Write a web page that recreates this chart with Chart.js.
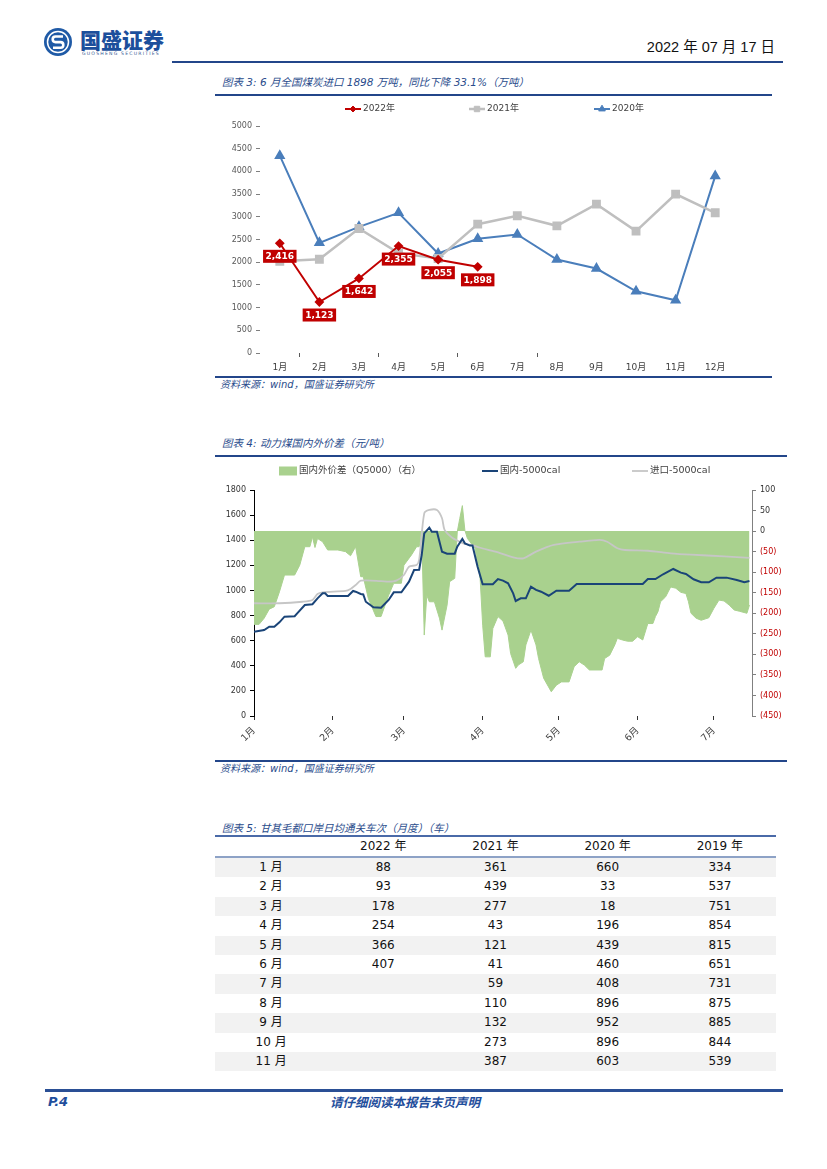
<!DOCTYPE html>
<html><head><meta charset="utf-8">
<script src="https://cdn.jsdelivr.net/npm/chart.js@4.4.1/dist/chart.umd.min.js"></script>
<style>
body{margin:0;background:#fff;}
#page{position:relative;width:827px;height:1169px;overflow:hidden;font-family:'DejaVu Sans','Noto Sans CJK SC',sans-serif;}
.hl{position:absolute;background:#23468a;}
.ttl{position:absolute;font-family:'DejaVu Sans','Noto Sans CJK SC',sans-serif;font-style:italic;font-size:10.5px;color:#2a4c8c;line-height:14px;white-space:nowrap;}
.src{position:absolute;font-family:'DejaVu Sans','Noto Sans CJK SC',sans-serif;font-style:italic;font-size:10px;color:#2a4c8c;line-height:14px;white-space:nowrap;}
canvas{position:absolute;}
#tbl{position:absolute;left:215px;top:837px;width:561px;border-collapse:collapse;font-family:'DejaVu Sans','Noto Sans CJK SC',sans-serif;font-size:12px;color:#111;table-layout:fixed;}
#tbl td,#tbl th{text-align:center;padding:0;height:19.4px;line-height:19.4px;font-weight:normal;}
#tbl thead th{height:19px;line-height:19px;border-bottom:2px solid #8da2c6;}
#tbl tbody tr:nth-child(odd) td{background:#f2f2f2;}
</style></head>
<body><div id="page">
  <svg style="position:absolute;left:43px;top:27px" width="30" height="30" viewBox="0 0 30 30">
    <circle cx="15" cy="15" r="14" fill="#1f5aa6"/>
    <circle cx="15" cy="15" r="10.5" fill="none" stroke="#fff" stroke-width="1.5"/>
    <path d="M20 9.5 H12.5 a2.8 2.8 0 0 0 0 5.6 h5 a2.8 2.8 0 0 1 0 5.6 H10" stroke="#fff" stroke-width="2.6" fill="none"/>
  </svg>
  <div style="position:absolute;left:80px;top:27px;font-family:'Noto Sans CJK SC',sans-serif;font-weight:900;font-size:21px;line-height:24px;color:#1c4f9c;letter-spacing:0px;">国盛证券</div>
  <div style="position:absolute;left:82px;top:51px;font-family:'DejaVu Sans',sans-serif;font-size:4.6px;line-height:6px;color:#3a5a94;letter-spacing:1.2px;">GUOSHENG SECURITIES</div>
  <div style="position:absolute;right:52px;top:38px;font-family:'Liberation Sans','Noto Sans CJK SC',sans-serif;font-size:14.5px;line-height:18px;color:#111;white-space:nowrap;">2022 年 07 月 17 日</div>
  <div class="hl" style="left:172px;top:61px;width:611px;height:2px;"></div>

  <div class="ttl" style="left:222px;top:75px;">图表 3: 6 月全国煤炭进口 1898 万吨，同比下降 33.1%（万吨）</div>
  <div class="hl" style="left:215px;top:94px;width:557px;height:2px;"></div>
  <canvas id="c1" width="560" height="280" style="left:215px;top:97px;"></canvas>
  <div class="hl" style="left:215px;top:376px;width:557px;height:2px;"></div>
  <div class="src" style="left:220px;top:378px;">资料来源：wind，国盛证券研究所</div>

  <div class="ttl" style="left:222px;top:436px;">图表 4: 动力煤国内外价差（元/吨）</div>
  <div class="hl" style="left:215px;top:455px;width:572px;height:2px;"></div>
  <canvas id="c2" width="575" height="300" style="left:215px;top:458px;"></canvas>
  <div class="hl" style="left:215px;top:760px;width:572px;height:2px;"></div>
  <div class="src" style="left:220px;top:762px;">资料来源：wind，国盛证券研究所</div>

  <div class="ttl" style="left:222px;top:821px;">图表 5: 甘其毛都口岸日均通关车次（月度）（车）</div>
  <div class="hl" style="left:215px;top:835px;width:561px;height:1.5px;background:#4a6aa8;"></div>
  <table id="tbl"><thead><tr id="thead"></tr></thead><tbody id="tbody"></tbody></table>

  <div class="hl" style="left:45px;top:1089px;width:738px;height:2.5px;background:#2a4f95;"></div>
  <div style="position:absolute;left:48px;top:1094px;font-family:'DejaVu Sans',sans-serif;font-weight:bold;font-style:italic;font-size:13px;line-height:16px;color:#1f4e9c;">P.4</div>
  <div style="position:absolute;left:330px;top:1094px;font-family:'Noto Sans CJK SC',sans-serif;font-weight:bold;font-style:italic;font-size:12.5px;line-height:16px;color:#1f4e9c;white-space:nowrap;">请仔细阅读本报告末页声明</div>
</div>
<script>
// ---------- Chart 3 data ----------
const months = ['1月','2月','3月','4月','5月','6月','7月','8月','9月','10月','11月','12月'];
const imp2022 = [2416,1123,1642,2355,2055,1898];
const imp2021 = [2022,2066,2743,2200,2081,2838,3022,2801,3279,2684,3500,3088];
const imp2020 = [4346,2426,2779,3088,2191,2515,2610,2059,1860,1360,1162,3897];
const yTicks1 = [0,500,1000,1500,2000,2500,3000,3500,4000,4500,5000];

// ---------- Chart 4 data (x = day of year, 0 = Jan 1) ----------
const monthStartDays = [0,31,59,90,120,151,181];
const monthTickLabels = ['1月','2月','3月','4月','5月','6月','7月'];
const domDays = [0,4,6,8,10,12,16,17,20,23,25,27,28,29,37,39,40,42,43,44,47,50,53,55,58,61,63,65,66,67,69,70,72,74,76,79,80,82,83,85,86,88,90,94,96,98,100,102,103,105,107,109,111,113,116,119,124,127,153,155,158,161,165,168,170,173,176,179,182,186,190,193,195];
const domVals = [671,685,711,711,746,791,795,818,884,890,937,977,977,956,956,996,990,972,968,910,866,863,924,985,985,1070,1163,1165,1282,1455,1500,1468,1468,1309,1293,1293,1348,1410,1375,1357,1357,1189,1049,1049,1091,1078,1057,977,916,937,937,1030,1004,990,958,998,998,1051,1051,1091,1091,1129,1171,1142,1131,1089,1065,1065,1102,1102,1083,1065,1075];
const impDays = [0,10,19,23,25,27,36,38,40,42,50,53,56,59,61,64,65,67,69,72,74,75,78,81,83,86,89,95,102,106,111,118,128,136,139,143,146,155,164,172,185,195];
const impVals = [898,898,910,924,972,985,996,1012,1043,1078,1075,1070,1078,1123,1189,1203,1243,1614,1641,1641,1575,1482,1420,1388,1370,1360,1340,1309,1264,1256,1309,1362,1388,1402,1388,1336,1322,1316,1296,1285,1272,1260];
const sprDays = [0,2,4,6,8,10,12,16,18,20,22,23,24,25,27,29,33,36,38,40,42,43,45,48,50,53,55,58,59,62,64,65,66,67,68,69,71,73,74,76,77,79,80,81,82,83,84,87,89,90,91,93,94,96,98,100,101,103,104,106,107,109,111,112,114,117,119,121,124,126,128,130,132,137,138,140,142,143,145,147,149,151,153,155,157,158,159,160,162,163,164,166,168,170,171,172,174,176,179,181,183,185,187,189,191,194,195];
const sprVals = [-227,-227,-212,-190,-184,-148,-107,-107,-83,-38,-38,-14,-40,-18,-26,-46,-46,-50,-60,-38,-111,-111,-164,-208,-208,-156,-127,-127,-83,-58,-38,-38,-2,-253,-156,-172,-172,-212,-241,-180,-123,-115,-2,31,62,2,-18,-42,-115,-229,-306,-306,-237,-208,-219,-253,-298,-334,-326,-318,-277,-241,-277,-310,-358,-391,-375,-367,-367,-330,-318,-326,-338,-338,-310,-302,-277,-261,-265,-268,-268,-257,-265,-225,-225,-208,-196,-172,-160,-148,-136,-139,-149,-152,-172,-200,-212,-217,-211,-188,-168,-170,-180,-192,-195,-200,-180];

// ---------- Table 5 data ----------
const tblHeads = ['', '2022 年', '2021 年', '2020 年', '2019 年'];
const tblMonths = ['1 月','2 月','3 月','4 月','5 月','6 月','7 月','8 月','9 月','10 月','11 月'];
const tbl2022 = [88,93,178,254,366,407];
const tbl2021 = [361,439,277,43,121,41,59,110,132,273,387];
const tbl2020 = [660,33,18,196,439,460,408,896,952,896,603];
const tbl2019 = [334,537,751,854,815,651,731,875,885,844,539];

// build table
document.getElementById('thead').innerHTML = tblHeads.map(h => '<th>' + h + '</th>').join('');
document.getElementById('tbody').innerHTML = tblMonths.map((m, i) =>
  '<tr><td>' + m + '</td><td>' + (tbl2022[i] ?? '') + '</td><td>' + tbl2021[i] + '</td><td>' + tbl2020[i] + '</td><td>' + tbl2019[i] + '</td></tr>').join('');

Chart.defaults.font.family = "'DejaVu Sans','Noto Sans CJK SC',sans-serif";
Chart.defaults.animation = false;

const lineLegend = {
  id: 'lineLegend',
  afterDraw(chart, args, o) {
    const ctx = chart.ctx, H = Chart.helpers;
    ctx.save();
    ctx.font = o.font; ctx.textBaseline = 'middle'; ctx.textAlign = 'left';
    chart.data.datasets.forEach((ds, i) => {
      const x = o.xs[i], y = o.y;
      let tx;
      if (ds.fill) {
        ctx.fillStyle = ds.backgroundColor;
        ctx.fillRect(x, y - o.boxH / 2, o.boxW, o.boxH);
        tx = x + o.boxW + o.gap;
      } else {
        ctx.strokeStyle = ds.borderColor; ctx.lineWidth = ds.borderWidth;
        ctx.beginPath(); ctx.moveTo(x, y); ctx.lineTo(x + o.lineW, y); ctx.stroke();
        if (ds.pointRadius > 0) {
          ctx.fillStyle = ds.pointBackgroundColor; ctx.strokeStyle = ds.pointBorderColor; ctx.lineWidth = 1;
          H.drawPoint(ctx, {pointStyle: ds.pointStyle, radius: ds.pointRadius * 0.85, rotation: 0, borderWidth: 1}, x + o.lineW / 2, y);
        }
        tx = x + o.lineW + o.gap;
      }
      ctx.fillStyle = o.color;
      ctx.fillText(ds.label, tx, y);
    });
    ctx.restore();
  }
};

const boxLabels = {
  id: 'boxLabels',
  afterDatasetsDraw(chart, args, o) {
    const ctx = chart.ctx;
    const meta = chart.getDatasetMeta(o.datasetIndex);
    const ds = chart.data.datasets[o.datasetIndex];
    ctx.save();
    ctx.font = 'bold 9px "DejaVu Sans", sans-serif';
    ctx.textAlign = 'center'; ctx.textBaseline = 'middle';
    meta.data.forEach((pt, i) => {
      const txt = ds.data[i].toLocaleString('en-US');
      const w = ctx.measureText(txt).width + 5, h = 13;
      const cy = pt.y + o.offset;
      ctx.fillStyle = o.bg;
      ctx.fillRect(pt.x - w / 2, cy - h / 2, w, h);
      ctx.fillStyle = '#fff';
      ctx.fillText(txt, pt.x, cy + 0.5);
    });
    ctx.restore();
  }
};

// ---------- Chart 3 ----------
new Chart(document.getElementById('c1'), {
  type: 'line',
  data: {
    labels: months,
    datasets: [
      {label: '2022年', data: imp2022, borderColor: '#c00000', backgroundColor: '#c00000', borderWidth: 2,
       pointStyle: 'rectRot', pointRadius: 3.5, pointBackgroundColor: '#c00000', pointBorderColor: '#c00000', fill: false},
      {label: '2021年', data: imp2021, borderColor: '#bfbfbf', backgroundColor: '#bfbfbf', borderWidth: 2.5,
       pointStyle: 'rect', pointRadius: 4.5, pointBackgroundColor: '#bfbfbf', pointBorderColor: '#bfbfbf', fill: false},
      {label: '2020年', data: imp2020, borderColor: '#4a7ebb', backgroundColor: '#4a7ebb', borderWidth: 2,
       pointStyle: 'triangle', pointRadius: 4.5, pointBackgroundColor: '#4a7ebb', pointBorderColor: '#4a7ebb', fill: false}
    ]
  },
  options: {
    responsive: false,
    layout: {padding: {top: 29, right: 40, left: 0, bottom: 0}},
    plugins: {
      legend: {display: false}, tooltip: {enabled: false},
      lineLegend: {xs: [130, 254, 379], y: 12, lineW: 16, gap: 2, boxW: 0, boxH: 0, font: '9px "DejaVu Sans","Noto Sans CJK SC",sans-serif', color: '#404040'},
      boxLabels: {datasetIndex: 0, offset: 13, bg: '#c00000'}
    },
    scales: {
      x: {
        offset: true,
        afterFit: s => { s.height = 24; },
        border: {display: false},
        grid: {offset: true, drawOnChartArea: false, tickLength: 4,
               tickColor: c => [1, 3, 5, 7, 12].includes(c.index) ? '#595959' : 'rgba(0,0,0,0)'},
        ticks: {color: '#404040', font: {size: 9}, padding: 5, autoSkip: false, maxRotation: 0}
      },
      y: {
        min: 0, max: 5000,
        afterFit: s => { s.width = 45; },
        afterBuildTicks: s => { s.ticks = yTicks1.map(v => ({value: v})); },
        border: {display: false},
        grid: {drawOnChartArea: false, tickLength: 4, tickColor: '#7f7f7f'},
        ticks: {color: '#595959', font: {size: 8}, padding: 4, callback: v => String(v)}
      }
    }
  },
  plugins: [lineLegend, boxLabels]
});

// ---------- Chart 4 ----------
const toXY = (d, v) => d.map((x, i) => ({x: x, y: v[i]}));
new Chart(document.getElementById('c2'), {
  type: 'line',
  data: {
    datasets: [
      {label: '国内外价差（Q5000）（右）', data: toXY(sprDays, sprVals), yAxisID: 'y2', fill: 'origin',
       backgroundColor: '#a9d18e', borderColor: '#a9d18e', borderWidth: 1, pointRadius: 0, tension: 0, order: 3},
      {label: '国内-5000cal', data: toXY(domDays, domVals), yAxisID: 'y', fill: false,
       borderColor: '#1a4478', borderWidth: 2, pointRadius: 0, tension: 0, order: 1},
      {label: '进口-5000cal', data: toXY(impDays, impVals), yAxisID: 'y', fill: false,
       borderColor: '#c6c6c6', borderWidth: 1.8, pointRadius: 0, tension: 0.25, order: 2}
    ]
  },
  options: {
    responsive: false,
    layout: {padding: {top: 32, right: 0, left: 0, bottom: 0}},
    plugins: {
      legend: {display: false}, tooltip: {enabled: false},
      lineLegend: {xs: [64, 267, 417], y: 13, lineW: 16, gap: 2, boxW: 18, boxH: 9, font: '9.5px "DejaVu Sans","Noto Sans CJK SC",sans-serif', color: '#404040'}
    },
    scales: {
      x: {
        type: 'linear', min: 0, max: 196,
        afterFit: s => { s.height = 42; },
        afterBuildTicks: s => { s.ticks = monthStartDays.map(v => ({value: v})); },
        border: {display: false},
        grid: {drawOnChartArea: false, tickLength: 4, tickColor: '#333'},
        ticks: {autoSkip: false, minRotation: 45, maxRotation: 45, color: '#404040', font: {size: 9.5}, padding: 5,
                callback: v => monthTickLabels[monthStartDays.indexOf(v)]}
      },
      y: {
        position: 'left', min: 0, max: 1800,
        afterFit: s => { s.width = 39; },
        border: {display: true, color: '#000', width: 1},
        grid: {drawOnChartArea: false, tickLength: 4, tickColor: '#000'},
        ticks: {stepSize: 200, color: '#333', font: {size: 8}, padding: 4, callback: v => String(v)}
      },
      y2: {
        position: 'right', min: -450, max: 100,
        afterFit: s => { s.width = 38; },
        border: {display: true, color: '#808080', width: 1},
        grid: {drawOnChartArea: false, tickLength: 4, tickColor: '#808080'},
        ticks: {stepSize: 50, font: {size: 8}, padding: 4,
                color: c => c.tick && c.tick.value < 0 ? '#c00000' : '#333',
                callback: v => v < 0 ? '(' + (-v) + ')' : String(v)}
      }
    }
  },
  plugins: [lineLegend]
});
</script>
</body></html>
